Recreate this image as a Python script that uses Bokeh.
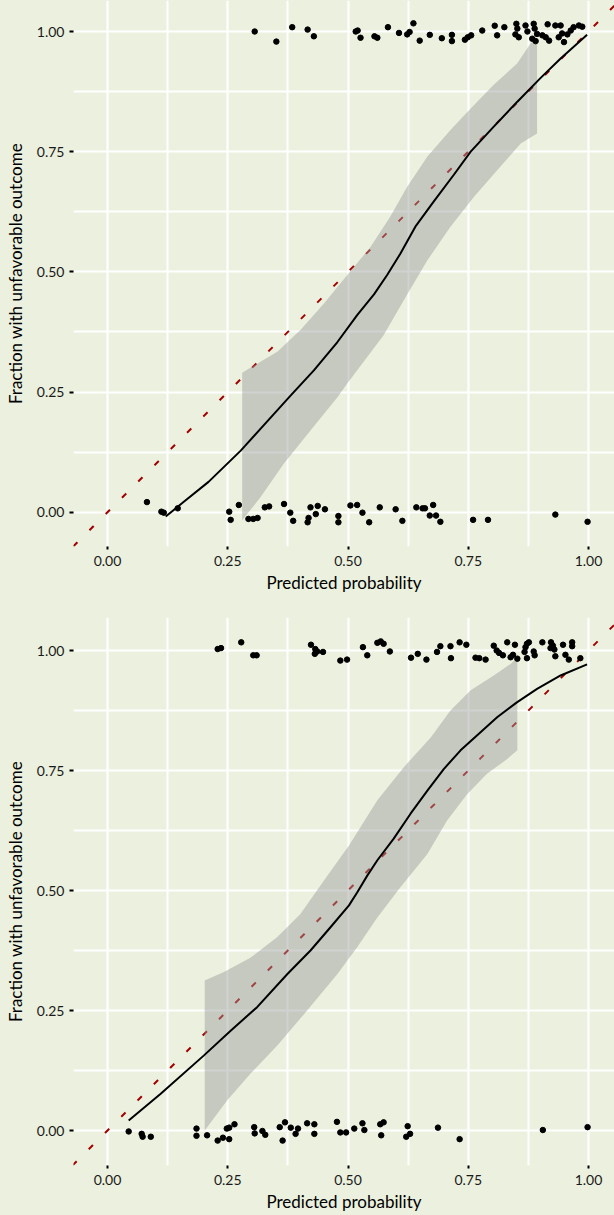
from bokeh.plotting import figure
from bokeh.models import Range1d, FixedTicker, Slope, NumeralTickFormatter
from bokeh.layouts import column
from bokeh.embed import file_html
from bokeh.resources import INLINE

# ---------------- data ----------------
x_ticks = [0.0, 0.25, 0.5, 0.75, 1.0]
x_minor = [0.125, 0.375, 0.625, 0.875]
y_ticks = [0.0, 0.25, 0.5, 0.75, 1.0]
y_minor = [0.125, 0.375, 0.625, 0.875]
x_title = "Predicted probability"
y_title = "Fraction with unfavorable outcome"

# top panel: observed outcomes (jittered), y near 1
top_hi_x = [0.306, 0.351, 0.384, 0.416, 0.429, 0.516, 0.520, 0.526, 0.555, 0.561, 0.583, 0.606,
            0.623, 0.628, 0.636, 0.649, 0.670, 0.695, 0.716, 0.716, 0.743, 0.749, 0.756, 0.779,
            0.805, 0.810, 0.825, 0.850, 0.852, 0.848, 0.855, 0.869, 0.873, 0.886, 0.888, 0.893,
            0.883, 0.890, 0.904, 0.911, 0.915, 0.918, 0.931, 0.938, 0.942, 0.945, 0.949, 0.956,
            0.963, 0.969, 0.980, 0.987]
top_hi_y = [1.000, 0.979, 1.009, 1.004, 0.990, 1.000, 1.002, 0.987, 0.990, 0.987, 1.009, 0.997,
            0.994, 0.999, 1.017, 0.981, 0.993, 0.986, 0.993, 0.980, 0.983, 0.988, 0.992, 1.002,
            1.012, 0.992, 1.009, 1.016, 1.006, 0.994, 0.988, 1.0125, 1.000, 1.016, 1.006, 0.995,
            0.985, 0.980, 0.992, 0.988, 1.015, 0.981, 1.0125, 0.988, 1.0125, 0.996, 0.978, 0.994,
            1.002, 1.009, 1.0125, 1.010]
# top panel: y near 0
top_lo_x = [0.082, 0.112, 0.117, 0.146, 0.253, 0.256, 0.273, 0.293, 0.303, 0.312, 0.327, 0.336,
            0.367, 0.380, 0.386, 0.416, 0.418, 0.422, 0.433, 0.437, 0.452, 0.480, 0.480, 0.505,
            0.519, 0.530, 0.544, 0.566, 0.599, 0.613, 0.642, 0.655, 0.660, 0.677, 0.670, 0.683,
            0.692, 0.760, 0.791, 0.931, 0.998]
top_lo_y = [0.021, 0.001, -0.001, 0.008, 0.001, -0.016, 0.015, -0.014, -0.014, -0.012, 0.010, 0.012,
            0.017, -0.001, -0.018, -0.021, -0.012, 0.010, -0.004, 0.013, 0.006, -0.008, -0.021, 0.014,
            0.015, -0.001, -0.021, 0.010, 0.006, -0.018, 0.010, 0.008, 0.008, 0.015, -0.007, -0.007,
            -0.020, -0.016, -0.016, -0.005, -0.020]
# top panel: smoothed calibration curve and its confidence band
top_fit_x = [0.121, 0.158, 0.210, 0.277, 0.325, 0.381, 0.429, 0.478, 0.519, 0.554, 0.581, 0.609,
             0.640, 0.678, 0.720, 0.755, 0.803, 0.852, 0.900, 0.942, 0.997]
top_fit_y = [-0.009, 0.021, 0.063, 0.128, 0.181, 0.243, 0.295, 0.354, 0.410, 0.453, 0.493, 0.538,
             0.594, 0.646, 0.702, 0.750, 0.802, 0.854, 0.903, 0.944, 0.993]
top_up_x = [0.280, 0.311, 0.353, 0.401, 0.450, 0.498, 0.547, 0.588, 0.623, 0.665, 0.713, 0.755,
            0.803, 0.852, 0.880, 0.893]
top_up_y = [0.290, 0.309, 0.334, 0.379, 0.434, 0.493, 0.552, 0.615, 0.677, 0.740, 0.795, 0.840,
            0.889, 0.934, 0.976, 0.986]
top_low_x = [0.280, 0.318, 0.366, 0.422, 0.478, 0.498, 0.574, 0.616, 0.665, 0.713, 0.762, 0.817,
             0.859, 0.893]
top_low_y = [-0.017, 0.031, 0.100, 0.170, 0.239, 0.267, 0.368, 0.441, 0.524, 0.594, 0.656, 0.719,
             0.767, 0.788]

# bottom panel: y near 1
bot_hi_x = [0.229, 0.236, 0.278, 0.303, 0.310, 0.423, 0.432, 0.436, 0.431, 0.448, 0.484, 0.498,
            0.531, 0.540, 0.561, 0.568, 0.574, 0.587, 0.631, 0.645, 0.663, 0.685, 0.692, 0.713,
            0.714, 0.732, 0.746, 0.765, 0.773, 0.786, 0.803, 0.809, 0.814, 0.822, 0.831, 0.838,
            0.843, 0.847, 0.852, 0.869, 0.872, 0.876, 0.867, 0.872, 0.886, 0.888, 0.904, 0.922,
            0.926, 0.921, 0.929, 0.931, 0.947, 0.952, 0.959, 0.966, 0.966, 0.983]
bot_hi_y = [1.003, 1.005, 1.017, 0.990, 0.990, 1.012, 1.003, 0.998, 0.993, 0.997, 0.979, 0.981,
            1.007, 0.990, 1.016, 1.019, 1.014, 0.998, 0.985, 0.993, 0.981, 0.997, 1.009, 1.009,
            0.984, 1.017, 1.012, 0.985, 0.984, 0.981, 1.010, 1.000, 0.995, 0.990, 1.017, 0.986,
            0.991, 1.012, 0.983, 1.007, 1.014, 1.017, 0.997, 0.984, 0.998, 0.990, 1.017, 1.017,
            1.010, 1.005, 1.002, 0.988, 1.012, 0.991, 0.981, 1.017, 1.009, 0.984]
# bottom panel: y near 0
bot_lo_x = [0.044, 0.071, 0.073, 0.090, 0.185, 0.185, 0.207, 0.229, 0.240, 0.253, 0.248, 0.253,
            0.264, 0.305, 0.306, 0.322, 0.328, 0.358, 0.369, 0.364, 0.381, 0.391, 0.396, 0.415,
            0.430, 0.430, 0.477, 0.484, 0.496, 0.513, 0.530, 0.534, 0.567, 0.574, 0.569, 0.624,
            0.629, 0.621, 0.687, 0.732, 0.905, 0.998]
bot_lo_y = [-0.002, -0.007, -0.013, -0.013, 0.004, -0.011, -0.010, -0.021, -0.015, -0.018, 0.004, 0.006,
            0.013, 0.007, -0.006, -0.001, -0.009, 0.007, 0.017, -0.021, 0.006, -0.007, 0.004, 0.015,
            0.013, -0.007, 0.018, -0.004, -0.004, 0.004, 0.015, 0.001, 0.013, 0.017, -0.010, 0.009,
            -0.007, -0.013, 0.006, -0.018, 0.001, 0.007]
bot_fit_x = [0.044, 0.110, 0.200, 0.256, 0.311, 0.374, 0.422, 0.464, 0.502, 0.519, 0.540, 0.561,
             0.595, 0.630, 0.665, 0.699, 0.734, 0.768, 0.810, 0.851, 0.893, 0.942, 0.997]
bot_fit_y = [0.021, 0.076, 0.156, 0.208, 0.257, 0.326, 0.375, 0.424, 0.469, 0.496, 0.531, 0.563,
             0.608, 0.660, 0.708, 0.753, 0.792, 0.823, 0.861, 0.892, 0.920, 0.948, 0.971]
bot_up_x = [0.202, 0.242, 0.297, 0.353, 0.401, 0.450, 0.502, 0.561, 0.616, 0.672, 0.713, 0.755,
            0.803, 0.838, 0.852]
bot_up_y = [0.3125, 0.330, 0.360, 0.403, 0.451, 0.521, 0.594, 0.688, 0.757, 0.819, 0.875, 0.917,
            0.948, 0.972, 0.986]
bot_low_x = [0.202, 0.249, 0.297, 0.353, 0.415, 0.478, 0.519, 0.561, 0.609, 0.665, 0.706, 0.748,
             0.789, 0.831, 0.852]
bot_low_y = [0.000, 0.063, 0.118, 0.177, 0.250, 0.326, 0.382, 0.444, 0.507, 0.576, 0.646, 0.701,
             0.743, 0.774, 0.792]

# ---------------- style ----------------
BG = "#EBF1DE"
FONT = "Lato"
TEXT = "#1a1a1a"


def make_panel(height, y_lo, y_hi, border_top, border_bottom,
               hi_x, hi_y, lo_x, lo_y, fit_x, fit_y, up_x, up_y, low_x, low_y):
    p = figure(width=614, height=height,
               x_range=Range1d(-0.0707, 1.054), y_range=Range1d(y_lo, y_hi),
               output_backend="svg", toolbar_location=None,
               min_border_left=73, min_border_right=0,
               min_border_top=border_top, min_border_bottom=border_bottom)
    p.background_fill_color = BG
    p.border_fill_color = BG
    p.outline_line_color = None

    xt = FixedTicker(ticks=x_ticks, minor_ticks=x_minor)
    yt = FixedTicker(ticks=y_ticks, minor_ticks=y_minor)
    p.xaxis.ticker = xt
    p.yaxis.ticker = yt
    p.xgrid.ticker = xt
    p.ygrid.ticker = yt
    for g in (p.xgrid, p.ygrid):
        g.grid_line_color = "white"
        g.grid_line_width = 2.2
        g.minor_grid_line_color = "white"
        g.minor_grid_line_width = 2

    for ax in (p.xaxis, p.yaxis):
        ax.formatter = NumeralTickFormatter(format="0.00")
        ax.axis_line_color = None
        ax.major_tick_line_color = "black"
        ax.major_tick_line_width = 2
        ax.major_tick_in = 0
        ax.minor_tick_line_color = None
        ax.major_label_text_font = FONT
        ax.major_label_text_font_size = "14px"
        ax.major_label_text_color = TEXT
        ax.axis_label_text_font = FONT
        ax.axis_label_text_font_size = "17px"
        ax.axis_label_text_font_style = "normal"
        ax.axis_label_text_color = "black"
    p.xaxis.major_tick_out = 3
    p.yaxis.major_tick_out = 4
    p.xaxis.major_label_standoff = 5
    p.yaxis.major_label_standoff = 5
    p.xaxis.axis_label = x_title
    p.yaxis.axis_label = y_title
    p.xaxis.axis_label_standoff = 3
    p.yaxis.axis_label_standoff = 8

    ref = Slope(gradient=1, y_intercept=0, line_color="#A30000", line_width=2,
                line_dash="6 17", level="underlay")
    p.add_layout(ref)

    p.patch(x=up_x + low_x[::-1], y=up_y + low_y[::-1],
            fill_color="#999999", fill_alpha=0.45, line_color=None)
    p.line(fit_x, fit_y, line_color="black", line_width=2)
    p.scatter(hi_x, hi_y, size=5.5, color="black")
    p.scatter(lo_x, lo_y, size=5.5, color="black")
    return p


top = make_panel(600, -0.0714, 1.0645, 0, 54,
                 top_hi_x, top_hi_y, top_lo_x, top_lo_y,
                 top_fit_x, top_fit_y, top_up_x, top_up_y, top_low_x, top_low_y)
bottom = make_panel(615, -0.0729, 1.06875, 17, 50,
                    bot_hi_x, bot_hi_y, bot_lo_x, bot_lo_y,
                    bot_fit_x, bot_fit_y, bot_up_x, bot_up_y, bot_low_x, bot_low_y)

layout = column(top, bottom, spacing=0)
layout.styles = {"background-color": BG}

open("out.html", "w").write(file_html(layout, INLINE))
